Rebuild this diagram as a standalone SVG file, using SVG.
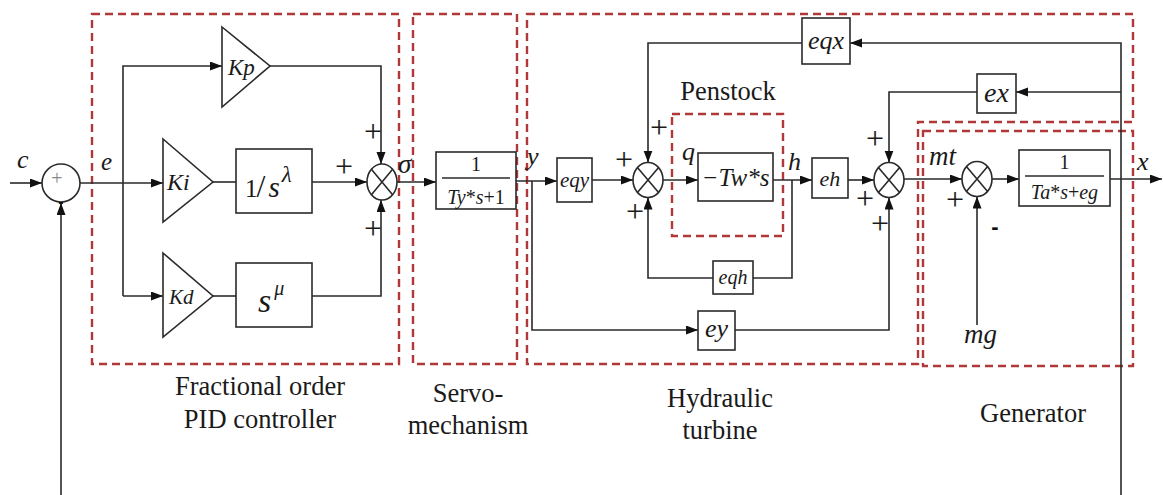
<svg xmlns="http://www.w3.org/2000/svg" width="1163" height="495" viewBox="0 0 1163 495">
<defs>
<style>
.ln{fill:none;stroke:#2a2a2a;stroke-width:1.6}
.bx{fill:#fff;stroke:#2a2a2a;stroke-width:1.6}
.db{fill:none;stroke:#b03838;stroke-width:2.4;stroke-dasharray:8 5}
.t{fill:#1a1a1a}
.i{font-style:italic}
.m{text-anchor:middle}
.pl{font-size:32px;fill:#1a1a1a;text-anchor:middle}
.mi{font-family:'Liberation Sans',sans-serif;font-weight:bold;font-size:22px;fill:#111;text-anchor:middle}
.lb{font-size:26.5px;fill:#1a1a1a;text-anchor:middle}
</style>
<marker id="ar" markerUnits="userSpaceOnUse" markerWidth="13" markerHeight="10" refX="12" refY="4.5" orient="auto">
<path d="M0,0 L12,4.5 L0,9 z" fill="#111"/>
</marker>
</defs>
<rect width="1163" height="495" fill="#fff"/>

<g id="regions">
<rect class="db" x="92" y="14" width="307" height="350"/>
<rect class="db" x="413" y="14" width="104" height="350"/>
<path class="db" d="M527,14 H1133 V122 H918 V364 H527 Z"/>
<rect class="db" x="923" y="131" width="210" height="235"/>
<rect class="db" x="672" y="114" width="111" height="122"/>
</g>

<g id="connectors">
<path class="ln" d="M10,183 H42" marker-end="url(#ar)"/>
<path class="ln" d="M61,495 V203" marker-end="url(#ar)"/>
<path class="ln" d="M80,183 H163" marker-end="url(#ar)"/>
<path class="ln" d="M123,296 V66 H222" marker-end="url(#ar)"/>
<path class="ln" d="M123,296 H163" marker-end="url(#ar)"/>
<path class="ln" d="M213,182 H236"/>
<path class="ln" d="M213,296 H236"/>
<path class="ln" d="M270,66 H381 V164" marker-end="url(#ar)"/>
<path class="ln" d="M312,182 H367" marker-end="url(#ar)"/>
<path class="ln" d="M312,296 H381 V200" marker-end="url(#ar)"/>
<path class="ln" d="M397,182 H436" marker-end="url(#ar)"/>
<path class="ln" d="M516,181 H557" marker-end="url(#ar)"/>
<path class="ln" d="M532,181 V330 H698" marker-end="url(#ar)"/>
<path class="ln" d="M592,180 H633" marker-end="url(#ar)"/>
<path class="ln" d="M802,43 H648 V162.5" marker-end="url(#ar)"/>
<path class="ln" d="M713,278 H648 V197.5" marker-end="url(#ar)"/>
<path class="ln" d="M663,180 H698" marker-end="url(#ar)"/>
<path class="ln" d="M773,180 H812" marker-end="url(#ar)"/>
<path class="ln" d="M792,180 V278 H753"/>
<path class="ln" d="M848,180 H874" marker-end="url(#ar)"/>
<path class="ln" d="M977,92 H889 V162.5" marker-end="url(#ar)"/>
<path class="ln" d="M735,330 H889 V197.5" marker-end="url(#ar)"/>
<path class="ln" d="M904,179 H962" marker-end="url(#ar)"/>
<path class="ln" d="M977,325 V196.5" marker-end="url(#ar)"/>
<path class="ln" d="M992,179 H1019" marker-end="url(#ar)"/>
<path class="ln" d="M1110,179 H1162" marker-end="url(#ar)"/>
<path class="ln" d="M1121,495 V43 H850" marker-end="url(#ar)"/>
<path class="ln" d="M1121,92 H1016" marker-end="url(#ar)"/>
</g>

<g font-family="'Liberation Serif','DejaVu Serif',serif">
<g id="sum1">
<circle class="bx" cx="61" cy="183" r="19"/>
<text class="m" x="57" y="185" font-size="20" fill="#888">+</text>
<text class="mi" x="61" y="207" style="font-size:16px">-</text>
</g>

<g id="Kp">
<path class="bx" d="M222,27 L270,66 L222,107 Z"/>
<text class="t i" x="228" y="75" font-size="23">Kp</text>
</g>
<g id="Ki">
<path class="bx" d="M163,139 L213,182 L163,222 Z"/>
<text class="t i" x="167" y="190" font-size="24">Ki</text>
</g>
<g id="Kd">
<path class="bx" d="M163,253 L213,296 L163,337 Z"/>
<text class="t i" x="169" y="304" font-size="21">Kd</text>
</g>
<g id="integ">
<rect class="bx" x="236" y="149" width="76" height="64"/>
<text class="t" x="245" y="197" font-size="25">1<tspan font-size="32" dx="-1">/</tspan><tspan font-style="italic" font-size="29" dx="3">s</tspan><tspan font-style="italic" font-size="23" dx="2" dy="-15">λ</tspan></text>
</g>
<g id="deriv">
<rect class="bx" x="236" y="263" width="76" height="64"/>
<text class="t i" x="258" y="312" font-size="34">s<tspan font-size="20" dx="3" dy="-17">μ</tspan></text>
</g>
<g id="mul1">
<ellipse class="bx" cx="382" cy="182" rx="15" ry="18"/>
<path class="ln" d="M371.4,169.3 L392.6,194.7 M392.6,169.3 L371.4,194.7"/>
</g>
<g id="servo">
<rect class="bx" x="436" y="152" width="80" height="57"/>
<text class="t m" x="476" y="171" font-size="20">1</text>
<path class="ln" d="M442,178 H510" stroke-width="1.3"/>
<text class="t m" x="476" y="204" font-size="20"><tspan font-style="italic">Ty</tspan>*<tspan font-style="italic">s</tspan>+1</text>
</g>
<g id="eqy">
<rect class="bx" x="557" y="158" width="35" height="44"/>
<text class="t i m" x="574.5" y="187" font-size="21">eqy</text>
</g>
<g id="mul2">
<ellipse class="bx" cx="648" cy="180" rx="15" ry="17.5"/>
<path class="ln" d="M637.4,167.6 L658.6,192.4 M658.6,167.6 L637.4,192.4"/>
</g>
<g id="penstock">
<rect class="bx" x="698" y="153" width="75" height="48"/>
<text class="t i m" x="735.5" y="186" font-size="25">−Tw*s</text>
</g>
<g id="eqh">
<rect class="bx" x="713" y="261" width="40" height="33"/>
<text class="t i m" x="733" y="284" font-size="20">eqh</text>
</g>
<g id="eh">
<rect class="bx" x="812" y="158" width="36" height="40"/>
<text class="t i m" x="830" y="186" font-size="22">eh</text>
</g>
<g id="ey">
<rect class="bx" x="698" y="311" width="37" height="39"/>
<text class="t i m" x="716.5" y="337" font-size="26">ey</text>
</g>
<g id="eqx">
<rect class="bx" x="802" y="18" width="48" height="46"/>
<text class="t i m" x="826" y="49" font-size="26">eqx</text>
</g>
<g id="ex">
<rect class="bx" x="977" y="74" width="39" height="39"/>
<text class="t i m" x="996.5" y="102" font-size="28">ex</text>
</g>
<g id="mul3">
<ellipse class="bx" cx="889" cy="180" rx="15" ry="17.5"/>
<path class="ln" d="M878.4,167.6 L899.6,192.4 M899.6,167.6 L878.4,192.4"/>
</g>
<g id="mul4">
<ellipse class="bx" cx="977" cy="179" rx="15" ry="17.5"/>
<path class="ln" d="M966.4,166.6 L987.6,191.4 M987.6,166.6 L966.4,191.4"/>
</g>
<g id="gen">
<rect class="bx" x="1019" y="150" width="91" height="56"/>
<text class="t m" x="1064.5" y="169" font-size="20">1</text>
<path class="ln" d="M1025,176 H1104" stroke-width="1.3"/>
<text class="t m" x="1064.5" y="199" font-size="20"><tspan font-style="italic">Ta</tspan>*<tspan font-style="italic">s</tspan>+<tspan font-style="italic">eg</tspan></text>
</g>

<g id="signs">
<text class="pl" x="373" y="142">+</text>
<text class="pl" x="344" y="177">+</text>
<text class="pl" x="373" y="239">+</text>
<text class="pl" x="624" y="170">+</text>
<text class="pl" x="659" y="138">+</text>
<text class="pl" x="635" y="222">+</text>
<text class="pl" x="875" y="149">+</text>
<text class="pl" x="865" y="209">+</text>
<text class="pl" x="880" y="234">+</text>
<text class="pl" x="955" y="210">+</text>
<text class="mi" x="995" y="234">-</text>
</g>

<g id="labels">
<text class="t i" x="17" y="168" font-size="26">c</text>
<text class="t i" x="101" y="170" font-size="25">e</text>
<text class="t i" x="398" y="173" font-size="27">σ</text>
<text class="t i" x="527" y="165" font-size="26">y</text>
<text class="t i" x="682" y="160" font-size="26">q</text>
<text class="t i" x="788" y="170" font-size="26">h</text>
<text class="t i" x="929" y="165" font-size="27">mt</text>
<text class="t i" x="1137" y="170" font-size="26">x</text>
<text class="t i" x="964" y="343" font-size="27">mg</text>
<text class="lb" x="728" y="100">Penstock</text>
<text class="lb" x="260" y="395">Fractional order</text>
<text class="lb" x="260" y="428">PID controller</text>
<text class="lb" x="468" y="402">Servo-</text>
<text class="lb" x="468" y="434">mechanism</text>
<text class="lb" x="720" y="407">Hydraulic</text>
<text class="lb" x="720" y="439">turbine</text>
<text class="lb" x="1033" y="422">Generator</text>
</g>
</g>
</svg>
